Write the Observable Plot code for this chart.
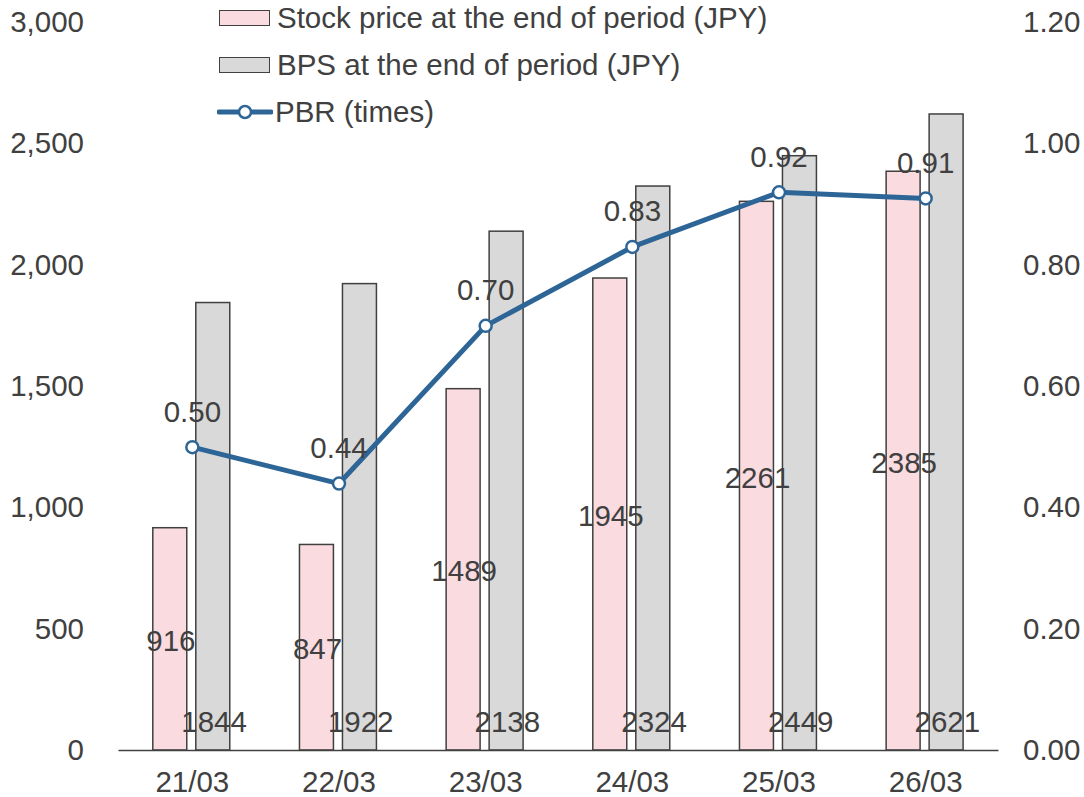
<!DOCTYPE html>
<html>
<head>
<meta charset="utf-8">
<script src="https://cdn.jsdelivr.net/npm/d3@7"></script>
<script src="https://cdn.jsdelivr.net/npm/@observablehq/plot@0.6"></script>
<style>
  html, body { margin: 0; padding: 0; background: #fff; }
  #wrap { position: relative; width: 1084px; height: 797px; font-family: "Liberation Sans", Arial, sans-serif; color: #404040; }
  #legend { position: absolute; left: 217px; top: -6px; font-size: 29.5px; }
  .row { height: 47px; display: flex; align-items: center; }
  .sw { width: 49px; height: 14px; border: 1.5px solid #404040; margin-left: 2px; }
  .lab { margin-left: 8px; white-space: nowrap; }
</style>
</head>
<body>
<div id="wrap"></div>
<script>
const categories = ["21/03", "22/03", "23/03", "24/03", "25/03", "26/03"];
const stockPrice = [916, 847, 1489, 1945, 2261, 2385];
const bps = [1844, 1922, 2138, 2324, 2449, 2621];
const pbr = [0.50, 0.44, 0.70, 0.83, 0.92, 0.91];
const leftTicks = [0, 500, 1000, 1500, 2000, 2500, 3000];
const rightTicks = [0, 0.2, 0.4, 0.6, 0.8, 1.0, 1.2];
const seriesNames = ["Stock price at the end of period (JPY)", "BPS at the end of period (JPY)", "PBR (times)"];

const RATIO = 3000 / 1.2; // right axis max 1.20 aligned with left max 3,000
const PINK = "#fadbe0", GRAY = "#d9d9d9", BLUE = "#2e6597", INK = "#404040";
const FS = 29.5;

const rows = categories.map((c, i) => ({cat: c, stock: stockPrice[i], bps: bps[i], pbr: pbr[i]}));

const chart = Plot.plot({
  width: 1084,
  height: 797,
  marginLeft: 118.5,
  marginRight: 85.5,
  marginTop: 22,
  marginBottom: 47,
  x: {type: "band", domain: categories, padding: 0, round: false},
  y: {domain: [0, 3000]},
  style: {fontFamily: "Liberation Sans, Arial, sans-serif", fontSize: FS + "px", color: INK, background: "#fff"},
  marks: [
    Plot.barY(rows, {x: "cat", y: "stock", fill: PINK, stroke: INK, strokeWidth: 1.5, insetLeft: 34.3, insetRight: 78.4}),
    Plot.barY(rows, {x: "cat", y: "bps", fill: GRAY, stroke: INK, strokeWidth: 1.5, insetLeft: 77.3, insetRight: 35.4}),
    Plot.ruleY([0], {stroke: INK, strokeWidth: 1.5}),
    Plot.line(rows, {x: "cat", y: d => d.pbr * RATIO, stroke: BLUE, strokeWidth: 5}),
    Plot.dot(rows, {x: "cat", y: d => d.pbr * RATIO, r: 6, fill: "white", stroke: BLUE, strokeWidth: 2.5}),
    Plot.text(rows, {x: "cat", y: d => d.stock / 2, text: d => String(d.stock), dx: -21.5, dy: 2, fontSize: FS, fill: INK}),
    Plot.text(rows, {x: "cat", y: 0, text: d => String(d.bps), dx: 21.7, dy: -27.5, fontSize: FS, fill: INK}),
    Plot.text(rows, {x: "cat", y: d => d.pbr * RATIO, text: d => d.pbr.toFixed(2), dy: -35, fontSize: FS, fill: INK}),
    Plot.axisY(leftTicks, {anchor: "left", tickSize: 0, tickPadding: 35, tickFormat: d3.format(","), label: null}),
    Plot.axisY(rightTicks.map(t => t * RATIO), {anchor: "right", tickSize: 0, tickPadding: 24, tickFormat: d => (d / RATIO).toFixed(2), label: null}),
    Plot.axisX({tickSize: 0, tickPadding: 21, label: null})
  ]
});

const wrap = document.getElementById("wrap");
wrap.appendChild(chart);

const legend = document.createElement("div");
legend.id = "legend";
const fills = [PINK, GRAY];
seriesNames.forEach((name, i) => {
  const row = document.createElement("div");
  row.className = "row";
  if (i < 2) {
    const sw = document.createElement("div");
    sw.className = "sw";
    sw.style.background = fills[i];
    row.appendChild(sw);
  } else {
    const ns = "http://www.w3.org/2000/svg";
    const svg = document.createElementNS(ns, "svg");
    svg.setAttribute("width", "56");
    svg.setAttribute("height", "18");
    const ln = document.createElementNS(ns, "line");
    ln.setAttribute("x1", "2"); ln.setAttribute("x2", "54");
    ln.setAttribute("y1", "9"); ln.setAttribute("y2", "9");
    ln.setAttribute("stroke", BLUE); ln.setAttribute("stroke-width", "5");
    ln.setAttribute("stroke-linecap", "round");
    const c = document.createElementNS(ns, "circle");
    c.setAttribute("cx", "28"); c.setAttribute("cy", "9"); c.setAttribute("r", "6");
    c.setAttribute("fill", "white"); c.setAttribute("stroke", BLUE); c.setAttribute("stroke-width", "2.5");
    svg.appendChild(ln); svg.appendChild(c);
    row.appendChild(svg);
  }
  const lab = document.createElement("span");
  lab.className = "lab";
  lab.style.marginLeft = i < 2 ? "7px" : "2px";
  lab.textContent = name;
  row.appendChild(lab);
  legend.appendChild(row);
});
wrap.appendChild(legend);
</script>
</body>
</html>
